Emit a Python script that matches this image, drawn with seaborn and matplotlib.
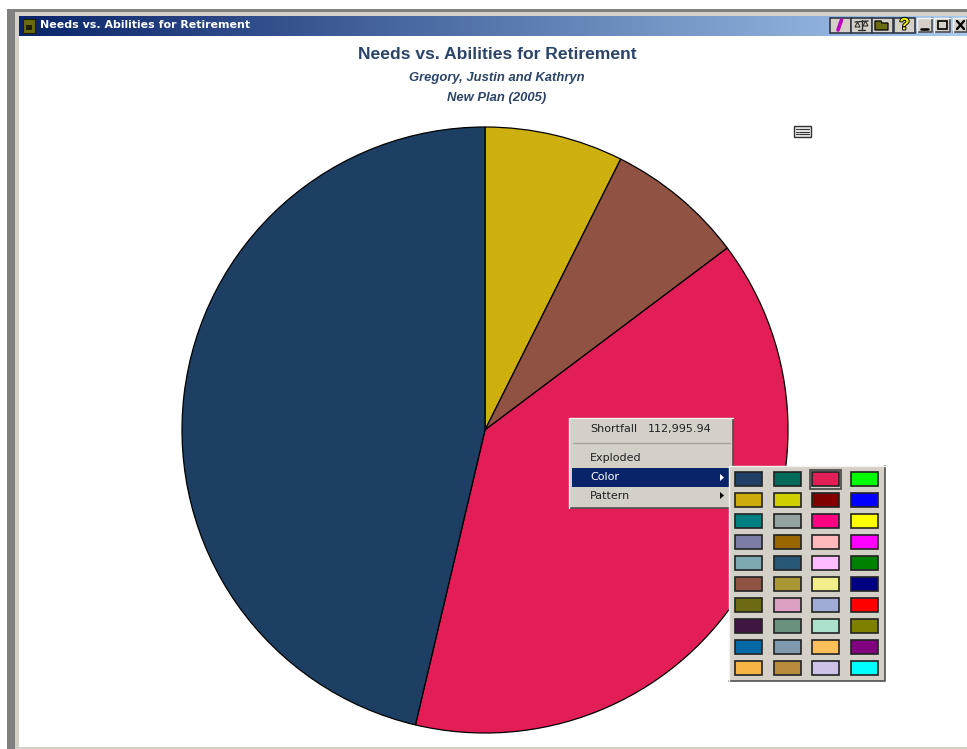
import numpy as np
import matplotlib
matplotlib.use("Agg")
import matplotlib.pyplot as plt
import matplotlib.patheffects as pe
from matplotlib.patches import Rectangle, Polygon
import seaborn as sns

W, H = 967, 749

labels = ["Gap", "Other", "Shortfall", "Abilities"]
values = [21450, 21350, 112995.94, 134400]
slice_colors = ["#CDAF0D", "#905242", "#E31E56", "#1D3F63"]

title = "Needs vs. Abilities for Retirement"
subtitle_1 = "Gregory, Justin and Kathryn"
subtitle_2 = "New Plan (2005)"

menu_items = ["Exploded", "Color", "Pattern"]
shortfall_label = "Shortfall"
shortfall_text = "112,995.94"

swatches = [
    ["#1F3F66", "#006B5B", "#E31E56", "#00FF00"],
    ["#CDAB0A", "#CFCF00", "#800000", "#0000FF"],
    ["#008080", "#94A3A0", "#FF0080", "#FFFF00"],
    ["#7C7DA6", "#996600", "#FFB9BC", "#FF00FF"],
    ["#7FA9B0", "#285878", "#FFBDFF", "#008000"],
    ["#905242", "#A99733", "#F3EE8C", "#000080"],
    ["#6E6A14", "#DCA0C2", "#A0ACD6", "#FF0000"],
    ["#3F1642", "#6A917E", "#ACE2CB", "#808000"],
    ["#0569A8", "#7F9AAE", "#FFC05A", "#800080"],
    ["#F6B545", "#B98B3C", "#CEC2E6", "#00FFFF"],
]

sns.set_theme(style="white")
plt.rcParams["font.family"] = ["Liberation Sans", "DejaVu Sans"]

fig = plt.figure(figsize=(W / 100, H / 100), dpi=100, facecolor="white")

# pixel-space layer for the window frame
bg = fig.add_axes([0, 0, 1, 1], zorder=0)
bg.add_patch(Rectangle((7, 9), 960, 740, fc="#808080", ec="none"))
bg.add_patch(Rectangle((15, 12), 952, 737, fc="#D4D0C8", ec="none"))
bg.add_patch(Rectangle((19, 36), 948, 711, fc="white", ec="none"))
grad = np.linspace(0, 1, 256).reshape(1, -1)
cmap = sns.blend_palette(["#0A246A", "#A6CAF0"], as_cmap=True)
bg.imshow(grad, extent=(19, 967, 36, 16), cmap=cmap, aspect="auto", zorder=1)
bg.set_xlim(0, W)
bg.set_ylim(H, 0)
bg.axis("off")
bg.add_patch(Rectangle((23, 19), 12, 14, fc="#6B6B10", ec="#202000", lw=0.8, zorder=2))
bg.add_patch(Rectangle((26, 25), 6, 5, fc="#202000", ec="none", zorder=2))
bg.text(40, 25.5, title, color="white", fontsize=7.9, fontweight="bold",
        family=["DejaVu Sans"], va="center", zorder=2)

# the pie
cx, cy, r = 485, 430, 303
ax = fig.add_axes([(cx - r) / W, 1 - (cy + r) / H, 2 * r / W, 2 * r / H], zorder=1)
ax.set_facecolor("none")
ax.pie(values, colors=slice_colors, startangle=90, counterclock=False, radius=1,
       wedgeprops={"edgecolor": "black", "linewidth": 0.9})
ax.set_xlim(-1, 1)
ax.set_ylim(-1, 1)

# overlay for titles, menus, icons
top = fig.add_axes([0, 0, 1, 1], zorder=2)
top.set_xlim(0, W)
top.set_ylim(H, 0)
top.axis("off")
top.patch.set_alpha(0)

ink = "#2B4468"
top.text(497, 54.5, title, color=ink, fontsize=12.6, fontweight="bold", ha="center", va="center")
top.text(497, 77.5, subtitle_1, color=ink, fontsize=9.4, fontweight="bold", style="italic", ha="center", va="center")
top.text(497, 97.5, subtitle_2, color=ink, fontsize=9.4, fontweight="bold", style="italic", ha="center", va="center")

# small notes icon
top.add_patch(Rectangle((794, 126), 17, 11, fc="#E8E8E8", ec="#333333", lw=1))
for yy in (129, 131.5, 134):
    top.plot([799, 809], [yy, yy], color="#333333", lw=0.8)
    top.plot([796, 797.5], [yy, yy], color="#333333", lw=0.8)


def raised(x, y, w, h, fc="#D4D0C8", z=3):
    top.add_patch(Rectangle((x, y), w, h, fc=fc, ec="none", zorder=z))
    top.plot([x, x + w, x + w], [y + h, y + h, y], color="#505050", lw=1.2, zorder=z)
    top.plot([x, x, x + w], [y + h, y, y], color="#F4F2EE", lw=1.0, zorder=z)


# toolbar buttons in the title bar
for bx in [830, 851, 872, 894]:
    top.add_patch(Rectangle((bx, 17.5), 21, 15, fc="#D4D0C8", ec="#303848", lw=1.2, zorder=3))
top.plot([838, 841.5], [30, 20], color="#C000C0", lw=2.6, zorder=4)
top.plot([861.5, 861.5], [20, 30], color="#303030", lw=1, zorder=4)
top.plot([855, 868], [22, 21], color="#303030", lw=1, zorder=4)
top.plot([858, 865], [30, 30], color="#303030", lw=1, zorder=4)
top.add_patch(Polygon([[855, 27], [857.5, 22], [860, 27]], fc="none", ec="#303030", lw=0.8, zorder=4))
top.add_patch(Polygon([[863, 26], [865.5, 21], [868, 26]], fc="none", ec="#303030", lw=0.8, zorder=4))
top.add_patch(Polygon([[875, 30], [875, 21], [881, 21], [882, 23], [888, 23], [888, 30]],
                      fc="#6B6B10", ec="black", lw=0.9, zorder=4))
top.text(904.5, 25, "?", color="#F4F400", fontsize=12, fontweight="bold", ha="center", va="center", zorder=4,
         path_effects=[pe.withStroke(linewidth=1.4, foreground="black")])
for bx, bw in ((917, 15), (934, 16), (953, 14)):
    raised(bx, 18, bw, 14)
top.plot([921, 928], [29, 29], color="black", lw=1.8, zorder=4)
top.add_patch(Rectangle((938, 21), 9, 8, fc="none", ec="black", lw=1.2, zorder=4))
top.plot([957, 964], [21, 29], color="black", lw=1.7, zorder=4)
top.plot([957, 964], [29, 21], color="black", lw=1.7, zorder=4)

# context menu
raised(569, 418, 164, 90)
menu_font = dict(fontsize=8.0, family=["DejaVu Sans"], va="center", zorder=5)
top.text(590, 429, shortfall_label, color="#222222", **menu_font)
top.text(648, 429, shortfall_text, color="#222222", **menu_font)
top.plot([573, 730], [443, 443], color="#A8A49C", lw=1, zorder=4)
top.add_patch(Rectangle((572, 468), 158, 19, fc="#0A246A", ec="none", zorder=4))
for name, yy, col in zip(menu_items, [458, 477, 496], ["#222222", "white", "#222222"]):
    top.text(590, yy, name, color=col, **menu_font)
top.add_patch(Polygon([[720, 474], [720, 481], [724, 477.5]], fc="white", ec="none", zorder=5))
top.add_patch(Polygon([[720, 492], [720, 499], [724, 495.5]], fc="black", ec="none", zorder=5))

# colour palette flyout
raised(729, 466, 156, 215, z=6)
for row, colors in enumerate(swatches):
    for col, colour in enumerate(colors):
        sx = 735 + col * 38.7
        sy = 472 + row * 21
        top.add_patch(Rectangle((sx, sy), 27, 14, fc=colour, ec="#222222", lw=1.2, zorder=7))
top.add_patch(Rectangle((810, 469.5), 31, 19, fc="none", ec="#444444", lw=1.2, zorder=7))

fig.savefig("out.png", dpi=100)
